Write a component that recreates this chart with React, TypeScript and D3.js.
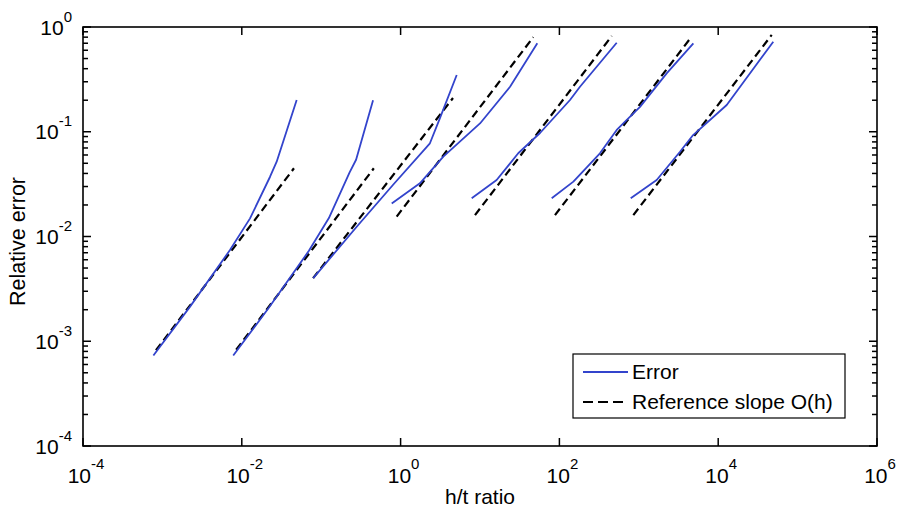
import * as d3 from "d3";

// Error curves, [h/t ratio, relative error]
const error1 = [[7.7e-4, 7.3e-4], [2.23e-3, 2.14e-3], [7.1e-3, 7.43e-3], [1.27e-2, 1.49e-2], [2.27e-2, 3.72e-2], [2.75e-2, 5.18e-2], [4.91e-2, 0.201]];
const error2 = [[7.8e-3, 7.3e-4], [2.2e-2, 2.1e-3], [7.0e-2, 7.3e-3], [0.125, 0.015], [0.228, 0.041], [0.275, 0.054], [0.45, 0.2]];
const error3 = [[0.0794, 0.004], [0.28, 0.0124], [0.8, 0.031], [2.34, 0.0776], [3.13, 0.135], [5.09, 0.348]];
const error4 = [[0.773, 0.0207], [1.75, 0.0322], [3.45, 0.0578], [10, 0.12], [23.9, 0.269], [52.7, 0.699]];
const error5 = [[7.86, 0.0232], [16.2, 0.0346], [30.3, 0.0623], [57, 0.0973], [136, 0.201], [181.6, 0.269], [527, 0.708]];
const error6 = [[80, 0.0232], [150, 0.0334], [324, 0.0623], [527, 0.104], [1035, 0.173], [2243, 0.361], [4865, 0.699]];
const error7 = [[791, 0.0232], [1679, 0.0346], [3304, 0.0645], [4831, 0.093], [12800, 0.18], [49400, 0.724]];

// Reference slope O(h) segments
const ref1 = [[8.3e-4, 8.2e-4], [0.0454, 0.0448]];
const ref2 = [[8.5e-3, 8.3e-4], [0.46, 0.0448]];
const ref3 = [[0.079, 0.004], [4.57, 0.21]];
const ref4 = [[0.893, 0.0155], [46.9, 0.8]];
const ref5 = [[8.65, 0.016], [456, 0.82]];
const ref6 = [[88, 0.016], [4634, 0.81]];
const ref7 = [[853, 0.016], [47200, 0.84]];

const errorSeries = [error1, error2, error3, error4, error5, error6, error7];
const refSeries = [ref1, ref2, ref3, ref4, ref5, ref6, ref7];

const xTickExps = [-4, -2, 0, 2, 4, 6];
const yTickExps = [-4, -3, -2, -1, 0];

const W = 897;
const H = 511;
const L = 83, R = 877, T = 27, B = 446;
const BLUE = "#3344cc";
const FONT = "'Liberation Sans', Arial, Helvetica, sans-serif";

export default function App() {
  const x = d3.scaleLog().domain([1e-4, 1e6]).range([L, R]);
  const y = d3.scaleLog().domain([1e-4, 1]).range([B, T]);
  const line = d3.line<number[]>().x((d) => x(d[0])).y((d) => y(d[1]));

  const yMinor = y.ticks().filter((v) => {
    const e = Math.log10(v);
    return Math.abs(e - Math.round(e)) > 1e-6;
  });

  return (
    <svg width={W} height={H} style={{ position: "absolute", left: 0, top: 0, background: "#fff" }} fontFamily={FONT}>
      <rect x={0} y={0} width={W} height={H} fill="#fff" />

      {/* reference lines */}
      {refSeries.map((s, i) => (
        <path key={"r" + i} d={line(s) || ""} fill="none" stroke="#000" strokeWidth={2.2} strokeDasharray="8,4.5" />
      ))}
      {/* error curves */}
      {errorSeries.map((s, i) => (
        <path key={"e" + i} d={line(s) || ""} fill="none" stroke={BLUE} strokeWidth={1.8} strokeLinejoin="round" />
      ))}

      {/* axes box */}
      <rect x={L} y={T} width={R - L} height={B - T} fill="none" stroke="#000" strokeWidth={1.6} />

      {/* x ticks */}
      {xTickExps.map((e) => {
        const px = x(Math.pow(10, e));
        return (
          <g key={"xt" + e}>
            <line x1={px} x2={px} y1={B} y2={B - 8} stroke="#000" strokeWidth={1.5} />
            <line x1={px} x2={px} y1={T} y2={T + 8} stroke="#000" strokeWidth={1.5} />
            <text x={px + 3} y={483} textAnchor="middle" fontSize={21} fill="#000">
              10<tspan dy={-14} fontSize={15}>{e}</tspan>
            </text>
          </g>
        );
      })}

      {/* y ticks */}
      {yTickExps.map((e) => {
        const py = y(Math.pow(10, e));
        return (
          <g key={"yt" + e}>
            <line x1={L} x2={L + 8} y1={py} y2={py} stroke="#000" strokeWidth={1.5} />
            <line x1={R} x2={R - 8} y1={py} y2={py} stroke="#000" strokeWidth={1.5} />
            <text x={72} y={py + 7.5} textAnchor="end" fontSize={21} fill="#000">
              10<tspan dy={-13} fontSize={15}>{e}</tspan>
            </text>
          </g>
        );
      })}
      {yMinor.map((v, i) => (
        <g key={"ym" + i}>
          <line x1={L} x2={L + 5} y1={y(v)} y2={y(v)} stroke="#000" strokeWidth={1.5} />
          <line x1={R} x2={R - 5} y1={y(v)} y2={y(v)} stroke="#000" strokeWidth={1.5} />
        </g>
      ))}

      {/* axis labels */}
      <text x={(L + R) / 2} y={504} textAnchor="middle" fontSize={21} fill="#000">h/t ratio</text>
      <text transform={`translate(25,${(T + B) / 2 + 5}) rotate(-90)`} textAnchor="middle" fontSize={21.5} fill="#000">Relative error</text>

      {/* legend */}
      <rect x={573} y={354} width={272} height={64} fill="#fff" stroke="#000" strokeWidth={1.2} />
      <line x1={583} x2={628} y1={372} y2={372} stroke={BLUE} strokeWidth={1.8} />
      <text x={632} y={379} fontSize={21} fill="#000">Error</text>
      <line x1={583} x2={628} y1={402} y2={402} stroke="#000" strokeWidth={1.8} strokeDasharray="10,5" />
      <text x={632} y={409} fontSize={21} fill="#000">Reference slope O(h)</text>
    </svg>
  );
}
